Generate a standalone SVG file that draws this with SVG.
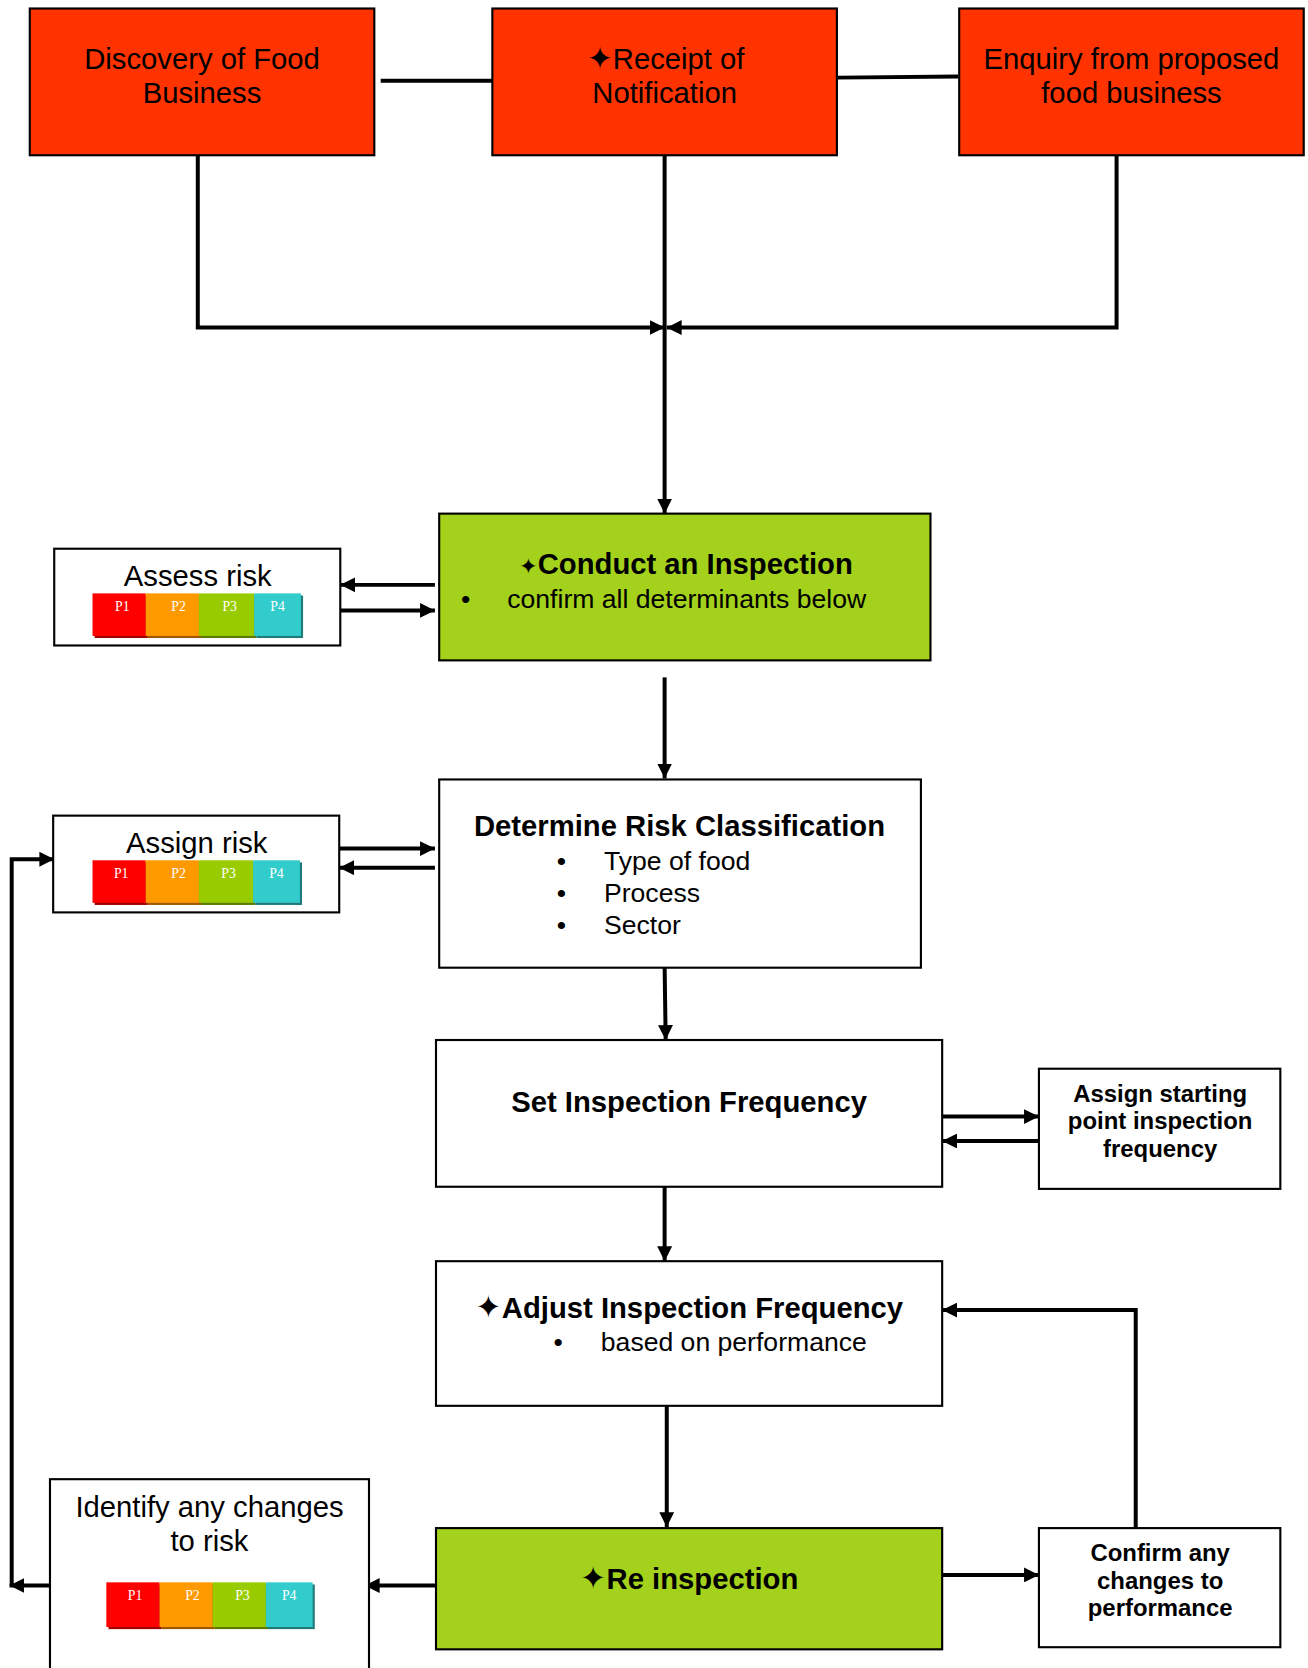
<svg xmlns="http://www.w3.org/2000/svg" width="1308" height="1668" viewBox="0 0 1308 1668">
<defs>
<marker id="ah" viewBox="0 0 14 14" refX="14" refY="7" markerWidth="14" markerHeight="14" markerUnits="userSpaceOnUse" orient="auto">
<path d="M0,0 L14,7 L0,14 Z" fill="#000"/>
</marker>
</defs>
<style>
.red{fill:#FF3300;stroke:#000;stroke-width:2}
.grn{fill:#A4D11B;stroke:#000;stroke-width:2}
.wht{fill:#fff;stroke:#000;stroke-width:2}
.t{font-family:"Liberation Sans",Arial,sans-serif;fill:#000;text-anchor:middle}
.r{font-size:27.5px}
.b{font-size:27.5px;font-weight:bold}
.s{font-size:25px}
.sb{font-size:22.5px;font-weight:bold}
.st{font-family:"DejaVu Sans",sans-serif}
.l{text-anchor:start}
.c{fill:none;stroke:#000;stroke-width:3.75}
.p{font-family:"Liberation Serif",serif;font-size:13px;fill:#fff;text-anchor:middle}
</style>
<rect width="1308" height="1668" fill="#fff"/>
<g transform="scale(1.0634)">
<g id="connectors">
<line class="c" x1="358" y1="76" x2="463" y2="76"/>
<line class="c" x1="787" y1="73" x2="901" y2="72"/>
<polyline class="c" points="186,146 186,308 625,308" marker-end="url(#ah)"/>
<polyline class="c" points="1050,146 1050,308 627,308" marker-end="url(#ah)"/>
<line class="c" x1="625" y1="146" x2="625" y2="483" marker-end="url(#ah)"/>
<line class="c" x1="409" y1="550" x2="320" y2="550" marker-end="url(#ah)"/>
<line class="c" x1="320" y1="574" x2="409" y2="574" marker-end="url(#ah)"/>
<line class="c" x1="625" y1="637" x2="625" y2="732" marker-end="url(#ah)"/>
<line class="c" x1="319" y1="798" x2="409" y2="798" marker-end="url(#ah)"/>
<line class="c" x1="409" y1="816" x2="319" y2="816" marker-end="url(#ah)"/>
<line class="c" x1="625" y1="910" x2="626" y2="978" marker-end="url(#ah)"/>
<line class="c" x1="886" y1="1050" x2="977" y2="1050" marker-end="url(#ah)"/>
<line class="c" x1="977" y1="1073" x2="886" y2="1073" marker-end="url(#ah)"/>
<line class="c" x1="625" y1="1116" x2="625" y2="1186" marker-end="url(#ah)"/>
<line class="c" x1="627" y1="1322" x2="627" y2="1436" marker-end="url(#ah)"/>
<line class="c" x1="886" y1="1481" x2="977" y2="1481" marker-end="url(#ah)"/>
<polyline class="c" points="1068,1437 1068,1232 886,1232" marker-end="url(#ah)"/>
<line class="c" x1="410" y1="1491" x2="343" y2="1491" marker-end="url(#ah)"/>
<line class="c" x1="47" y1="1491" x2="9" y2="1491" marker-end="url(#ah)"/>
<polyline class="c" points="11,1491 11,808 51,808" marker-end="url(#ah)"/>
</g>

<g id="discovery">
<rect class="red" x="28" y="8" width="324" height="138"/>
<text class="t r" x="190" y="65">Discovery of Food</text>
<text class="t r" x="190" y="97">Business</text>
</g>

<g id="receipt">
<rect class="red" x="463" y="8" width="324" height="138"/>
<text class="t r" x="626" y="65"><tspan class="st" font-size="29">✦</tspan>Receipt of</text>
<text class="t r" x="625" y="97">Notification</text>
</g>

<g id="enquiry">
<rect class="red" x="902" y="8" width="324" height="138"/>
<text class="t r" x="1064" y="65">Enquiry from proposed</text>
<text class="t r" x="1064" y="97">food business</text>
</g>

<g id="conduct">
<rect class="grn" x="413" y="483" width="462" height="138"/>
<text class="t b" x="645" y="540"><tspan class="st" font-size="21">✦</tspan>Conduct an Inspection</text>
<text class="t s" x="438" y="572">•</text>
<text class="t s l" x="477" y="572">confirm all determinants below</text>
</g>

<g id="assess">
<rect class="wht" x="51" y="516" width="269" height="91"/>
<text class="t r" x="186" y="551">Assess risk</text>
<rect x="89" y="560" width="50" height="40" fill="#A00000"/>
<rect x="139" y="560" width="50" height="40" fill="#A05800"/>
<rect x="189" y="560" width="52" height="40" fill="#5C7A00"/>
<rect x="241" y="560" width="44" height="40" fill="#1F7A7A"/>
<rect x="87" y="558" width="50" height="40" fill="#FF0000"/>
<rect x="137" y="558" width="50" height="40" fill="#FF9900"/>
<rect x="187" y="558" width="52" height="40" fill="#99CC00"/>
<rect x="239" y="558" width="44" height="40" fill="#33CCCC"/>
<text class="p" x="115" y="575">P1</text>
<text class="p" x="168" y="575">P2</text>
<text class="p" x="216" y="575">P3</text>
<text class="p" x="261" y="575">P4</text>
</g>

<g id="determine">
<rect class="wht" x="413" y="733" width="453" height="177"/>
<text class="t b" x="639" y="786">Determine Risk Classification</text>
<text class="t s" x="528" y="818">•</text>
<text class="t s l" x="568" y="818">Type of food</text>
<text class="t s" x="528" y="848">•</text>
<text class="t s l" x="568" y="848">Process</text>
<text class="t s" x="528" y="878">•</text>
<text class="t s l" x="568" y="878">Sector</text>
</g>

<g id="assign">
<rect class="wht" x="50" y="767" width="269" height="91"/>
<text class="t r" x="185" y="802">Assign risk</text>
<rect x="89" y="811" width="50" height="40" fill="#A00000"/>
<rect x="139" y="811" width="50" height="40" fill="#A05800"/>
<rect x="189" y="811" width="51" height="40" fill="#5C7A00"/>
<rect x="240" y="811" width="44" height="40" fill="#1F7A7A"/>
<rect x="87" y="809" width="50" height="40" fill="#FF0000"/>
<rect x="137" y="809" width="50" height="40" fill="#FF9900"/>
<rect x="187" y="809" width="51" height="40" fill="#99CC00"/>
<rect x="238" y="809" width="44" height="40" fill="#33CCCC"/>
<text class="p" x="114" y="826">P1</text>
<text class="p" x="168" y="826">P2</text>
<text class="p" x="215" y="826">P3</text>
<text class="p" x="260" y="826">P4</text>
</g>

<g id="set">
<rect class="wht" x="410" y="978" width="476" height="138"/>
<text class="t b" x="648" y="1046">Set Inspection Frequency</text>
</g>

<g id="starting">
<rect class="wht" x="977" y="1005" width="227" height="113"/>
<text class="t sb" x="1091" y="1036">Assign starting</text>
<text class="t sb" x="1091" y="1062">point inspection</text>
<text class="t sb" x="1091" y="1088">frequency</text>
</g>

<g id="adjust">
<rect class="wht" x="410" y="1186" width="476" height="136"/>
<text class="t b" x="648" y="1239"><tspan class="st" font-size="30">✦</tspan>Adjust Inspection Frequency</text>
<text class="t s" x="525" y="1270">•</text>
<text class="t s l" x="565" y="1270">based on performance</text>
</g>

<g id="reinspection">
<rect class="grn" x="410" y="1437" width="476" height="114"/>
<text class="t b" x="648" y="1494"><tspan class="st" font-size="30">✦</tspan>Re inspection</text>
</g>

<g id="confirm">
<rect class="wht" x="977" y="1437" width="227" height="112"/>
<text class="t sb" x="1091" y="1468">Confirm any</text>
<text class="t sb" x="1091" y="1494">changes to</text>
<text class="t sb" x="1091" y="1520">performance</text>
</g>

<g id="identify">
<rect class="wht" x="47" y="1391" width="300" height="290"/>
<text class="t r" x="197" y="1427">Identify any changes</text>
<text class="t r" x="197" y="1459">to risk</text>
<rect x="102" y="1490" width="50" height="42" fill="#A00000"/>
<rect x="152" y="1490" width="50" height="42" fill="#A05800"/>
<rect x="202" y="1490" width="50" height="42" fill="#5C7A00"/>
<rect x="252" y="1490" width="44" height="42" fill="#1F7A7A"/>
<rect x="100" y="1488" width="50" height="42" fill="#FF0000"/>
<rect x="150" y="1488" width="50" height="42" fill="#FF9900"/>
<rect x="200" y="1488" width="50" height="42" fill="#99CC00"/>
<rect x="250" y="1488" width="44" height="42" fill="#33CCCC"/>
<text class="p" x="127" y="1505">P1</text>
<text class="p" x="181" y="1505">P2</text>
<text class="p" x="228" y="1505">P3</text>
<text class="p" x="272" y="1505">P4</text>
</g>
</g>
</svg>
